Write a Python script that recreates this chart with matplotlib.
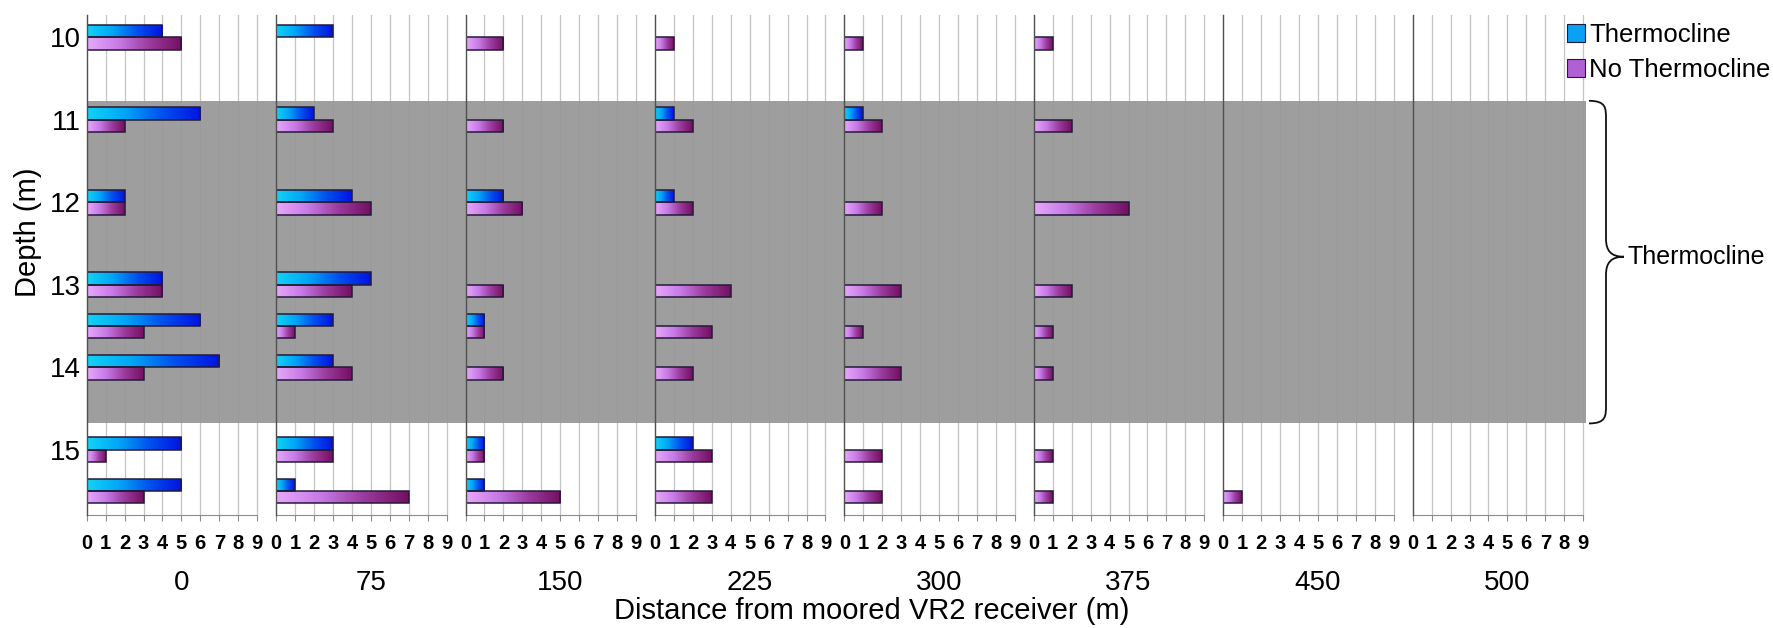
import numpy as np
import matplotlib
matplotlib.use('Agg')
import matplotlib.pyplot as plt
from matplotlib.colors import LinearSegmentedColormap
from matplotlib.patches import Patch, PathPatch
from matplotlib.path import Path
from matplotlib.transforms import blended_transform_factory

plt.rcParams['font.family'] = ['Liberation Sans', 'DejaVu Sans']

# depth rows (m) and receiver distances (m)
depths = [10, 11, 12, 13, 13.5, 14, 15, 15.5]
distances = ['0', '75', '150', '225', '300', '375', '450', '500']
depth_ticks = [10, 11, 12, 13, 14, 15]
count_ticks = list(range(10))

# counts per distance panel, one value per depth row
thermo = [
    [4, 6, 2, 4, 6, 7, 5, 5],   # 0
    [3, 2, 4, 5, 3, 3, 3, 1],   # 75
    [0, 0, 2, 0, 1, 0, 1, 1],   # 150
    [0, 1, 1, 0, 0, 0, 2, 0],   # 225
    [0, 1, 0, 0, 0, 0, 0, 0],   # 300
    [0, 0, 0, 0, 0, 0, 0, 0],   # 375
    [0, 0, 0, 0, 0, 0, 0, 0],   # 450
    [0, 0, 0, 0, 0, 0, 0, 0],   # 500
]
no_thermo = [
    [5, 2, 2, 4, 3, 3, 1, 3],
    [0, 3, 5, 4, 1, 4, 3, 7],
    [2, 2, 3, 2, 1, 2, 1, 5],
    [1, 2, 2, 4, 3, 2, 3, 3],
    [1, 2, 2, 3, 1, 3, 2, 2],
    [1, 2, 5, 2, 1, 1, 1, 1],
    [0, 0, 0, 0, 0, 0, 0, 1],
    [0, 0, 0, 0, 0, 0, 0, 0],
]
thermocline_band = (10.77, 14.68)

blue_cmap = LinearSegmentedColormap.from_list('blu', ['#12d2f6', '#00a6f6', '#0050ee', '#0014e2'])
purple_cmap = LinearSegmentedColormap.from_list('pur', ['#e6a8fa', '#c77ae6', '#9a3a9c', '#741062'])
grad = np.linspace(0, 1, 64).reshape(1, -1)

fig = plt.figure(figsize=(17.74, 6.28), dpi=100)
left, right = 86.7 / 1774, 1586 / 1774
bottom, top = 1 - 515 / 628, 1 - 15 / 628
gs = fig.add_gridspec(1, 8, left=left, right=right, bottom=bottom, top=top,
                      wspace=0, width_ratios=[10] * 7 + [9.15])

bar_h = 0.15
axes = []
for i, dist in enumerate(distances):
    ax = fig.add_subplot(gs[0, i], sharey=axes[0] if axes else None)
    axes.append(ax)
    xmax = 10 if i < 7 else 9.15

    # light vertical grid, thermocline shading over it
    for g in range(1, 10):
        ax.axvline(g, color='#c4c4c4', lw=0.9, zorder=0)
    ax.axhspan(*thermocline_band, color='#979797', alpha=0.93, lw=0, zorder=1)

    for vals, off, cmap in ((thermo[i], -bar_h / 2, blue_cmap),
                            (no_thermo[i], bar_h / 2, purple_cmap)):
        ys = [d + off for d, v in zip(depths, vals) if v > 0]
        ws = [v for v in vals if v > 0]
        if not ws:
            continue
        bars = ax.barh(ys, ws, height=bar_h, facecolor='none',
                       edgecolor='#241a3a', linewidth=1.1, zorder=4)
        for b in bars:
            x0, y0 = b.get_x(), b.get_y()
            im = ax.imshow(grad, cmap=cmap, aspect='auto', zorder=3,
                           extent=(x0, x0 + b.get_width(), y0 + b.get_height(), y0))
            im.set_clip_path(b)

    ax.set_xlim(0, xmax)
    ax.set_xticks(count_ticks)
    ax.tick_params(axis='x', direction='out', length=4, color='#8c8c8c', pad=10)
    ax.spines['top'].set_visible(False)
    ax.spines['right'].set_visible(False)
    ax.spines['bottom'].set_bounds(0, 9)
    ax.spines['bottom'].set_color('#8c8c8c')
    ax.spines['left'].set_color('#505050')
    ax.spines['left'].set_linewidth(1.0)
    ax.spines['left'].set_zorder(5)

    trans = blended_transform_factory(ax.transData, fig.transFigure)
    ax.text(5, 1 - 583 / 628, dist, transform=trans, ha='center', va='center', fontsize=20)

    if i == 0:
        ax.set_yticks(depth_ticks)
        ax.tick_params(axis='y', length=0, pad=4, labelsize=20)
    else:
        ax.tick_params(axis='y', left=False, labelleft=False)

axes[0].set_ylim(15.79, 9.73)

fig.canvas.draw()
for ax in axes:
    plt.setp(ax.get_xticklabels(), fontsize=14.5, fontweight='bold')

fig.text(28 / 1774, 1 - 232 / 628, 'Depth (m)', rotation=90, ha='center', va='center', fontsize=21)
fig.text(872 / 1774, 1 - 611 / 628, 'Distance from moored VR2 receiver (m)',
         ha='center', va='center', fontsize=21)

# legend
handles = [Patch(facecolor='#0aa0f4', edgecolor='#241a3a', lw=0.8),
           Patch(facecolor='#b060d4', edgecolor='#241a3a', lw=0.8)]
fig.legend(handles, ['Thermocline', 'No Thermocline'], loc='upper left',
           bbox_to_anchor=(1552 / 1774, 1 - 8 / 628), frameon=False, fontsize=18.5,
           handlelength=0.7, handleheight=0.7, handletextpad=0.15, labelspacing=0.4,
           borderpad=0.1)

# curly brace marking the thermocline band
bt = blended_transform_factory(fig.transFigure, axes[-1].transData)
x0, xm, xt = 1589 / 1774, 1606 / 1774, 1624 / 1774
yt, yb = thermocline_band
ymid = 12.66
r = 0.22
verts = [(x0, yt), (xm, yt), (xm, yt + r * 0.4), (xm, yt + r),
         (xm, ymid - r),
         (xm, ymid - r * 0.3), (xm + (xt - xm) * 0.3, ymid), (xt, ymid),
         (xm + (xt - xm) * 0.3, ymid), (xm, ymid + r * 0.3), (xm, ymid + r),
         (xm, yb - r),
         (xm, yb - r * 0.4), (xm, yb), (x0, yb)]
codes = [Path.MOVETO, Path.CURVE4, Path.CURVE4, Path.CURVE4,
         Path.LINETO,
         Path.CURVE4, Path.CURVE4, Path.CURVE4,
         Path.CURVE4, Path.CURVE4, Path.CURVE4,
         Path.LINETO,
         Path.CURVE4, Path.CURVE4, Path.CURVE4]
brace = PathPatch(Path(verts, codes), transform=bt, fill=False, lw=1.3,
                  edgecolor='#111111', clip_on=False)
fig.add_artist(brace)
fig.text(1628 / 1774, ymid, 'Thermocline', transform=bt, ha='left', va='center', fontsize=18)

fig.savefig('out.png', dpi=100, facecolor='white')
